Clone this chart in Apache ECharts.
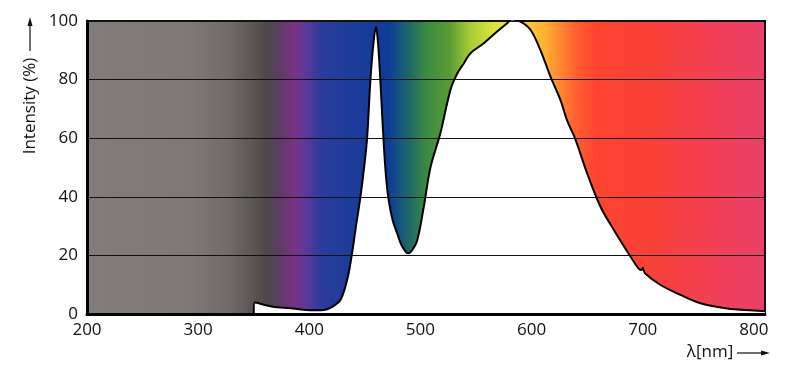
<!DOCTYPE html>
<html>
<head>
<meta charset="utf-8">
<script src="https://cdn.jsdelivr.net/npm/echarts@6/dist/echarts.min.js"></script>
<style>
html,body{margin:0;padding:0;background:#fff;}
#chart{width:800px;height:382px;}
</style>
</head>
<body>
<div id="chart"></div>
<script>
// Wavelength (nm) and relative intensity (%)
const wavelengths = [350, 351, 367, 383, 398, 410, 416, 421, 428, 434, 438, 442, 446, 449, 452, 455, 458, 460, 461.5, 463, 465, 467, 469, 471, 475, 479, 483, 489, 492, 497, 503, 509, 518, 527, 533, 539, 545, 557, 569, 578, 582, 590, 599, 608, 617, 626, 632, 639, 650, 662, 674, 689, 696, 699, 700, 702, 716, 734, 752, 776, 800, 810];
const intensity   = [0, 3.9, 2.5, 2.0, 1.4, 1.3, 1.6, 2.5, 4.8, 11.6, 19.6, 30, 40, 49, 60, 80, 93.5, 98, 94, 86, 72, 58, 47, 40, 32, 27.6, 23.5, 20.7, 21.5, 25, 36.6, 50, 61.8, 76.5, 82, 85.5, 89, 92.4, 96.4, 99.2, 100.5, 99.8, 97, 90, 81, 73, 66, 60, 48, 36.6, 28.7, 19.6, 15.6, 15, 15.8, 13.9, 9.9, 6.5, 3.65, 1.9, 1.2, 0.9];
const xTicks = [200, 300, 400, 500, 600, 700, 800];
const yTicks = [0, 20, 40, 60, 80, 100];
const yTitle = 'Intensity (%)';
const xTitle = 'λ[nm]';

const chart = echarts.init(document.getElementById('chart'));
const font = '"Open Sans", "Noto Sans", sans-serif';
const spectrum = new echarts.graphic.LinearGradient(0, 0, 1, 0, [
  {offset: 0.000, color: '#827c7a'},
  {offset: 0.150, color: '#7e7876'},
  {offset: 0.210, color: '#716b69'},
  {offset: 0.265, color: '#4e4949'},
  {offset: 0.285, color: '#5c3d66'},
  {offset: 0.305, color: '#7a3282'},
  {offset: 0.324, color: '#5a3a9a'},
  {offset: 0.347, color: '#2a3c9c'},
  {offset: 0.445, color: '#0e3c98'},
  {offset: 0.470, color: '#1a6070'},
  {offset: 0.500, color: '#3a8a40'},
  {offset: 0.535, color: '#5a9c34'},
  {offset: 0.565, color: '#a8cc34'},
  {offset: 0.600, color: '#dce43c'},
  {offset: 0.630, color: '#f4e040'},
  {offset: 0.675, color: '#ffb030'},
  {offset: 0.720, color: '#ff6030'},
  {offset: 0.750, color: '#ff4430'},
  {offset: 0.845, color: '#f8403a'},
  {offset: 0.930, color: '#f2405a'},
  {offset: 1.000, color: '#e84068'}
]);

chart.setOption({
  animation: false,
  grid: {
    left: 87, right: 35, top: 21, bottom: 68,
    show: true,
    backgroundColor: spectrum,
    borderColor: '#111',
    borderWidth: 2
  },
  xAxis: {
    type: 'value',
    min: 200, max: 810, interval: 100,
    z: 5,
    axisLine: {show: true, lineStyle: {color: '#000', width: 3}},
    axisTick: {show: false},
    splitLine: {show: false},
    axisLabel: {
      color: '#111', fontSize: 17, fontFamily: font, margin: 8,
      showMaxLabel: true,
      formatter: v => xTicks.includes(v) ? String(v) : ''
    }
  },
  yAxis: {
    type: 'value',
    min: 0, max: 100, interval: 20,
    z: 5,
    axisLine: {show: true, lineStyle: {color: '#000', width: 3}},
    axisTick: {show: false},
    splitLine: {show: true, lineStyle: {color: '#111', width: 1}},
    axisLabel: {
      color: '#111', fontSize: 17, fontFamily: font, margin: 9,
      formatter: v => yTicks.includes(v) ? String(v) : ''
    }
  },
  series: [{
    type: 'line',
    data: wavelengths.map((w, i) => [w, intensity[i]]),
    showSymbol: false,
    smooth: 0.35,
    lineStyle: {color: '#000', width: 2},
    areaStyle: {color: '#ffffff', opacity: 1},
    z: 3
  }],
  graphic: [
    {type: 'text', x: 30, y: 106, rotation: Math.PI / 2,
     style: {text: yTitle, fill: '#111', font: '17px ' + font, align: 'center', verticalAlign: 'middle'}},
    {type: 'line', shape: {x1: 30, y1: 51, x2: 30, y2: 25}, style: {stroke: '#111', lineWidth: 1.2}},
    {type: 'polygon', shape: {points: [[30, 17], [27.5, 26], [32.5, 26]]}, style: {fill: '#111'}},
    {type: 'text', x: 710, y: 352,
     style: {text: xTitle, fill: '#111', font: '17px ' + font, align: 'center', verticalAlign: 'middle'}},
    {type: 'line', shape: {x1: 737, y1: 353, x2: 762, y2: 353}, style: {stroke: '#111', lineWidth: 1.2}},
    {type: 'polygon', shape: {points: [[770, 353], [761, 350.5], [761, 355.5]]}, style: {fill: '#111'}}
  ]
});
</script>
</body>
</html>
